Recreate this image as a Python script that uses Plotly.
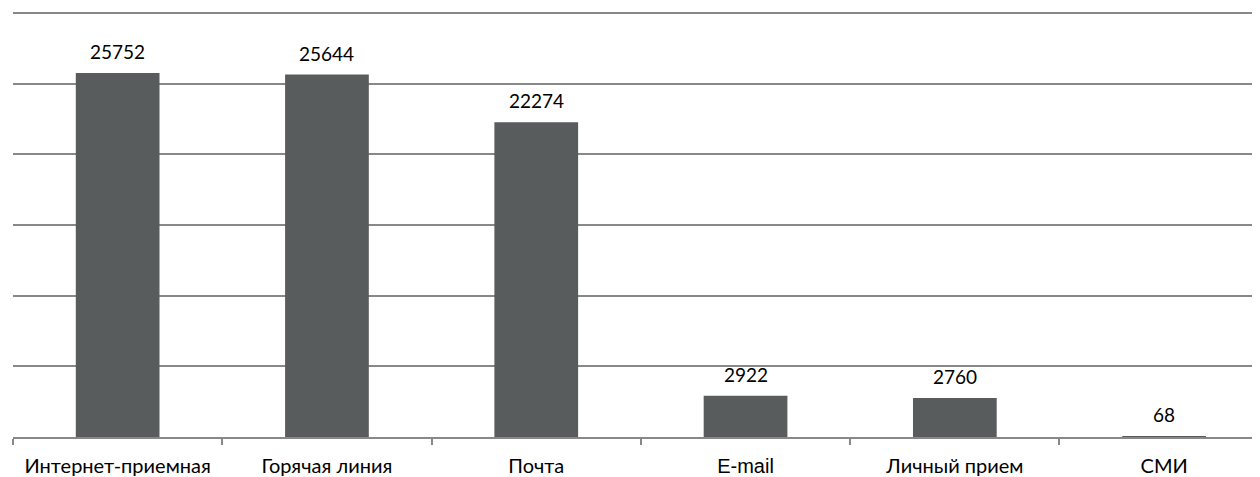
import plotly.graph_objects as go

categories = ["Интернет-приемная", "Горячая линия", "Почта", "E-mail", "Личный прием", "СМИ"]
values = [25752, 25644, 22274, 2922, 2760, 68]
tick_text = ["Интернет-приемная", "Горячая линия", "Почта",
             "<span style='font-family:Liberation Sans, Arial; font-size:20px'>E-mail</span>",
             "Личный прием", "СМИ"]

BAR = "#585c5d"
GRID = "#888888"
FONT = "Lato"

fig = go.Figure()
fig.add_trace(go.Bar(
    x=categories, y=values, marker=dict(color=BAR, line=dict(width=0)),
    width=0.4, hoverinfo="skip"))

for c, v in zip(categories, values):
    fig.add_annotation(x=c, y=v, text=str(v), showarrow=False,
                       yanchor="bottom", yshift=8,
                       font=dict(family=FONT, size=19, color="#000000"))

# page body has an 8px margin, so the figure is sized to the visible area
fig.update_layout(
    width=1252, height=469,
    margin=dict(l=5, r=0, t=1, b=38),
    paper_bgcolor="white", plot_bgcolor="white",
    showlegend=False,
    font=dict(family=FONT, size=19, color="#000000"),
)
fig.update_xaxes(
    type="category", range=[-0.5, 5.458],
    tickmode="array", tickvals=categories, ticktext=tick_text,
    tickson="boundaries", ticks="outside", ticklen=6, tickwidth=1.5, tickcolor=GRID,
    showline=True, linecolor=GRID, linewidth=2,
    showgrid=False, ticklabelstandoff=10,
    tickfont=dict(family=FONT, size=20, color="#000000"),
)
fig.update_yaxes(
    range=[0, 30282], dtick=5000, tick0=0,
    showticklabels=False, showgrid=True, gridcolor=GRID, gridwidth=1.5,
    zeroline=False, showline=False,
)

fig.write_html("out.html")
